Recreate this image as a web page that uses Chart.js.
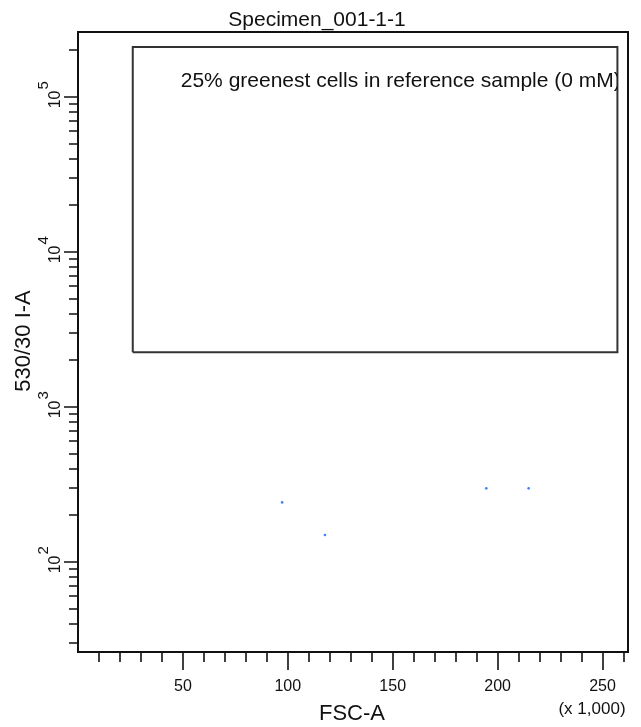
<!DOCTYPE html>
<html>
<head>
<meta charset="utf-8">
<script src="https://cdn.jsdelivr.net/npm/chart.js@4.4.1/dist/chart.umd.min.js"></script>
<style>
  body { margin: 0; background: #fff; }
  canvas { display: block; }
</style>
</head>
<body>
<canvas id="facsPlot" width="641" height="727"></canvas>
<script>
// Events (FSC-A, 530/30 I-A)
const fscValues = [97300, 117700, 194600, 214800];
const greenValues = [242, 149, 298, 298];

// Gate rectangle corners
const gateX = [26100, 257100];
const gateY = [2250, 210000];
const gateLabel = '25% greenest cells in reference sample (0 mM)';

// Axis ranges and tick labels
const xRange = [0, 262144];
const yRange = [26.2144, 262144];
const xTickLabels = ['50', '100', '150', '200', '250'];
const yDecades = [100, 1000, 10000, 100000];
const yExponents = ['2', '3', '4', '5'];

const plotTitle = 'Specimen_001-1-1';
const xTitle = 'FSC-A';
const yTitle = '530/30 I-A';
const xUnit = '(x 1,000)';

const FONT = '"Liberation Sans", Arial, sans-serif';

const points = fscValues.map((x, i) => ({ x: x, y: greenValues[i] }));
const gatePath = [
  { x: gateX[0], y: gateY[0] },
  { x: gateX[0], y: gateY[1] },
  { x: gateX[1], y: gateY[1] },
  { x: gateX[1], y: gateY[0] },
  { x: gateX[0], y: gateY[0] }
];

// frame, ticks, labels and titles drawn against the chart scales
const axesPlugin = {
  id: 'facsAxes',
  afterDraw(chart) {
    const c = chart.ctx;
    const area = chart.chartArea;
    const xs = chart.scales.x;
    const ys = chart.scales.y;
    c.save();
    c.strokeStyle = '#111';
    c.fillStyle = '#111';

    // frame
    c.lineWidth = 2;
    c.strokeRect(area.left, area.top, area.right - area.left, area.bottom - area.top);

    // x ticks every 10k, longer every 50k
    c.lineWidth = 1.6;
    c.beginPath();
    for (let v = 10000; v < xRange[1]; v += 10000) {
      const px = Math.round(xs.getPixelForValue(v));
      const len = v % 50000 === 0 ? 18 : 10;
      c.moveTo(px, area.bottom);
      c.lineTo(px, area.bottom + len);
    }
    // y ticks on log scale
    for (let d = 10; d <= 100000; d *= 10) {
      for (let m = 1; m <= 9; m++) {
        const v = d * m;
        if (v < yRange[0] || v > yRange[1]) continue;
        const py = Math.round(ys.getPixelForValue(v));
        const len = m === 1 ? 14 : 9;
        c.moveTo(area.left, py);
        c.lineTo(area.left - len, py);
      }
    }
    c.stroke();

    // x tick labels
    c.font = '16px ' + FONT;
    c.textAlign = 'center';
    c.textBaseline = 'alphabetic';
    xTickLabels.forEach(t => {
      const px = xs.getPixelForValue(parseFloat(t) * 1000);
      c.fillText(t, px, 691);
    });
    c.font = '17px ' + FONT;
    c.fillText(xUnit, 592, 714);

    // y tick labels: rotated 10 with superscript exponent
    yDecades.forEach((v, i) => {
      const py = ys.getPixelForValue(v);
      c.save();
      c.translate(60, py + 11.5);
      c.rotate(-Math.PI / 2);
      c.textAlign = 'left';
      c.font = '16px ' + FONT;
      c.fillText('10', 0, 0);
      const w = c.measureText('10').width;
      c.font = '15px ' + FONT;
      c.fillText(yExponents[i], w + 1, -12);
      c.restore();
    });

    // axis titles
    c.font = '22px ' + FONT;
    c.textAlign = 'center';
    c.fillText(xTitle, 352, 720);
    c.save();
    c.translate(30, 341);
    c.rotate(-Math.PI / 2);
    c.fillText(yTitle, 0, 0);
    c.restore();

    // plot title
    c.font = '21px ' + FONT;
    c.fillText(plotTitle, 317, 26);

    // gate label, clipped to the gate box
    const gl = xs.getPixelForValue(gateX[0]);
    const gr = xs.getPixelForValue(gateX[1]);
    const gt = ys.getPixelForValue(gateY[1]);
    const gb = ys.getPixelForValue(gateY[0]);
    c.save();
    c.beginPath();
    c.rect(gl, gt, gr - gl, gb - gt);
    c.clip();
    c.textAlign = 'left';
    c.font = '21px ' + FONT;
    c.fillText(gateLabel, gl + 48, gt + 40);
    c.restore();

    c.restore();
  }
};

const ctx = document.getElementById('facsPlot').getContext('2d');
const facsChart = new Chart(ctx, {
  type: 'scatter',
  data: {
    datasets: [{
      label: 'events',
      data: points,
      backgroundColor: '#3d7fff',
      borderWidth: 0,
      pointRadius: 1.3
    },
    {
      label: 'gate',
      data: gatePath,
      showLine: true,
      borderColor: '#333',
      borderWidth: 2,
      pointRadius: 0,
      fill: false
    }]
  },
  options: {
    responsive: false,
    animation: false,
    layout: {
      padding: { left: 78, top: 32, right: 13, bottom: 75 }
    },
    plugins: {
      legend: { display: false },
      tooltip: { enabled: false }
    },
    scales: {
      x: { type: 'linear', min: xRange[0], max: xRange[1], display: false },
      y: { type: 'logarithmic', min: yRange[0], max: yRange[1], display: false }
    }
  },
  plugins: [axesPlugin]
});
</script>
</body>
</html>
